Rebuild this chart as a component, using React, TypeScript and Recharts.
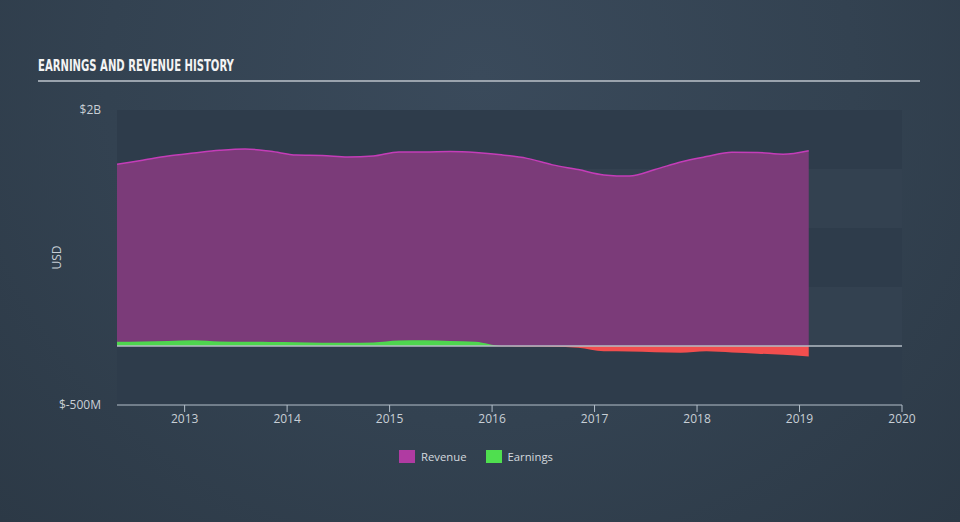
import { AreaChart, Area, XAxis, YAxis, CartesianGrid, ReferenceLine } from 'recharts'

// decimal years, roughly quarterly
const dates = [
  2012.34, 2012.59, 2012.84, 2013.09, 2013.34, 2013.59, 2013.84, 2014.09, 2014.34, 2014.59,
  2014.84, 2015.09, 2015.34, 2015.59, 2015.84, 2016.09, 2016.34, 2016.59, 2016.84, 2017.09,
  2017.34, 2017.59, 2017.84, 2018.09, 2018.34, 2018.59, 2018.84, 2019.09,
]

// USD millions
const revenue = [
  1540, 1575, 1610, 1635, 1658, 1670, 1650, 1618, 1615, 1602,
  1610, 1645, 1645, 1648, 1640, 1620, 1590, 1535, 1495, 1450,
  1440, 1495, 1560, 1605, 1642, 1640, 1625, 1655,
]

const earnings = [
  35, 38, 42, 48, 38, 36, 34, 32, 28, 27,
  30, 46, 48, 42, 35, -2, -5, -7, -14, -45,
  -47, -52, -57, -45, -55, -65, -75, -90,
]

const yearTicks = [2013, 2014, 2015, 2016, 2017, 2018, 2019, 2020]
const usdTicks = [-500, 0, 500, 1000, 1500, 2000]

const data = dates.map((d, i) => ({
  date: d,
  revenue: revenue[i],
  earnPos: Math.max(earnings[i], 0),
  earnNeg: Math.min(earnings[i], 0),
}))

const fmtUsd = (v: number) => {
  if (v === 2000) return '$2B'
  if (v === -500) return '$-500M'
  return ''
}

const FONT = "'Open Sans', 'DejaVu Sans', sans-serif"

export default function App() {
  return (
    <div
      style={{
        position: 'absolute',
        left: 0,
        top: 0,
        width: 960,
        height: 522,
        overflow: 'hidden',
        background: 'radial-gradient(ellipse at 50% 15%, #3a4a5b 0%, #334251 55%, #2c3946 100%)',
        fontFamily: FONT,
      }}
    >
      <div
        style={{
          position: 'absolute',
          left: 38,
          top: 56,
          color: '#f4f4f4',
          fontFamily: "'DejaVu Sans Condensed', 'DejaVu Sans', sans-serif",
          fontWeight: 700,
          fontSize: 16,
          transform: 'scaleX(0.7)',
          transformOrigin: 'left center',
          whiteSpace: 'nowrap',
        }}
      >
        EARNINGS AND REVENUE HISTORY
      </div>
      <div style={{ position: 'absolute', left: 38, top: 80, width: 882, height: 2, background: '#9aa3ad' }} />

      <AreaChart
        width={960}
        height={522}
        data={data}
        margin={{ top: 110, right: 58, bottom: 87, left: 0 }}
        style={{ position: 'absolute', left: 0, top: 0 }}
      >
        <CartesianGrid
          vertical={false}
          stroke="transparent"
          horizontalFill={['#2e3c4b', '#334150']}
        />
        <XAxis
          dataKey="date"
          type="number"
          domain={[2012.34, 2020]}
          ticks={yearTicks}
          allowDataOverflow
          axisLine={{ stroke: '#b4bfca' }}
          tickLine={{ stroke: '#b4bfca' }}
          tickSize={7}
          tick={{ fill: '#c8cfd6', fontSize: 12, fontFamily: FONT }}
        />
        <YAxis
          type="number"
          domain={[-500, 2000]}
          ticks={usdTicks}
          interval={0}
          width={117}
          axisLine={false}
          tickLine={false}
          tickSize={0}
          tickMargin={16}
          tickFormatter={fmtUsd}
          tick={{ fill: '#c8cfd6', fontSize: 12, fontFamily: FONT }}
          label={{ value: 'USD', angle: -90, position: 'center', dx: -2, fill: '#c8cfd6', fontSize: 12, fontFamily: FONT }}
        />
        <Area
          type="monotone"
          dataKey="revenue"
          stroke="#c43db8"
          strokeWidth={1.5}
          fill="#7b3b79"
          fillOpacity={1}
          dot={false}
          activeDot={false}
          isAnimationActive={false}
        />
        <Area
          type="monotone"
          dataKey="earnPos"
          stroke="none"
          fill="#4ed64e"
          fillOpacity={1}
          dot={false}
          activeDot={false}
          isAnimationActive={false}
        />
        <Area
          type="monotone"
          dataKey="earnNeg"
          stroke="none"
          fill="#f24e4e"
          fillOpacity={1}
          dot={false}
          activeDot={false}
          isAnimationActive={false}
        />
        <ReferenceLine y={0} stroke="#b4bcc4" strokeWidth={1.5} />
      </AreaChart>

      <div
        style={{
          position: 'absolute',
          top: 449,
          left: 399,
          display: 'flex',
          alignItems: 'center',
          color: '#d4d9de',
          fontSize: 11.3,
        }}
      >
        <span style={{ width: 16, height: 13, background: '#b03ba2', display: 'inline-block', marginRight: 6 }} />
        <span style={{ marginRight: 19 }}>Revenue</span>
        <span style={{ width: 16, height: 13, background: '#4fdf4f', display: 'inline-block', marginRight: 6 }} />
        <span>Earnings</span>
      </div>
    </div>
  )
}
